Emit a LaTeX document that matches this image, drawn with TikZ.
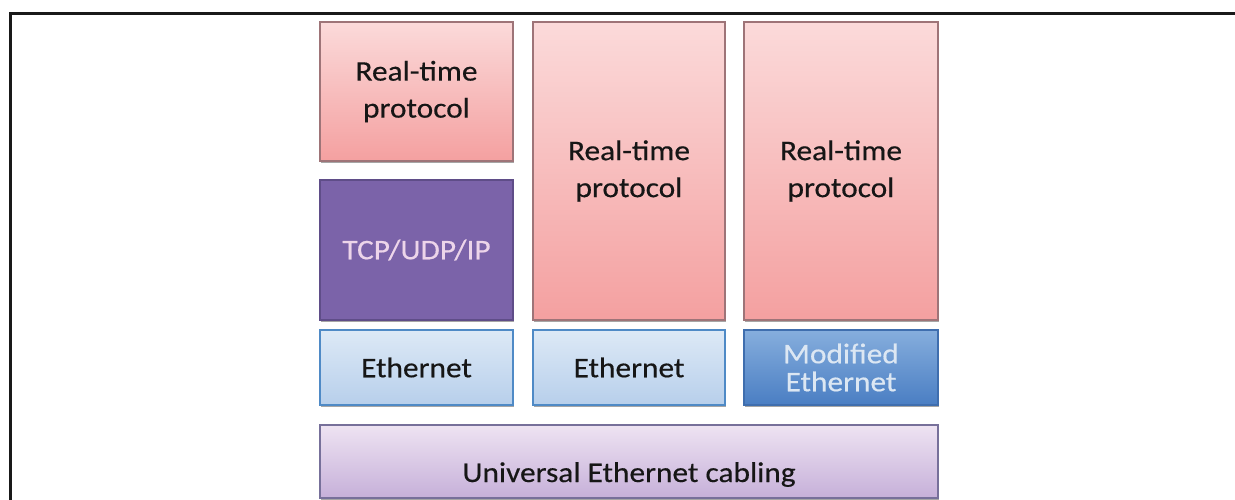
\documentclass[tikz,border=0pt]{standalone}
\usepackage{fontspec}
\setmainfont{Carlito}[FakeStretch=1.1,FakeBold=0.4]
\usetikzlibrary{shadows}
\definecolor{rtTop}{HTML}{FBDADA}
\definecolor{rtBot}{HTML}{F4A0A0}
\definecolor{rtDraw}{HTML}{9E7478}
\definecolor{tcpFill}{HTML}{7B63A9}
\definecolor{tcpDraw}{HTML}{5F4D88}
\definecolor{tcpText}{HTML}{EDD5EA}
\definecolor{ethTop}{HTML}{DDE9F6}
\definecolor{ethBot}{HTML}{B7CFEB}
\definecolor{ethDraw}{HTML}{4F8AC6}
\definecolor{modTop}{HTML}{86AEDD}
\definecolor{modBot}{HTML}{4A7EC3}
\definecolor{modDraw}{HTML}{3F6EAE}
\definecolor{modText}{HTML}{DCE7F3}
\definecolor{cabTop}{HTML}{EEE3F2}
\definecolor{cabBot}{HTML}{C6B0D9}
\definecolor{cabDraw}{HTML}{77709A}
\definecolor{txt}{HTML}{161616}
\tikzset{
  layer/.style={rectangle, inner sep=0pt, outer sep=0pt, line width=1.3pt, align=center,
    font=\fontsize{28.5}{37}\selectfont, text=txt,
    drop shadow={shadow xshift=1pt, shadow yshift=-1.8pt, opacity=0.35, fill=black}},
  rtbox/.style={layer, draw=rtDraw, top color=rtTop, bottom color=rtBot},
  tcpbox/.style={layer, draw=tcpDraw, fill=tcpFill, text=tcpText},
  ethbox/.style={layer, draw=ethDraw, top color=ethTop, bottom color=ethBot},
  modbox/.style={layer, draw=modDraw, top color=modTop, bottom color=modBot, text=modText,
    font=\fontsize{28.5}{28}\selectfont},
  cabbox/.style={layer, draw=cabDraw, top color=cabTop, bottom color=cabBot},
  frameline/.style={line width=3pt, draw=black!90}
}
\begin{document}
\begin{tikzpicture}[x=1pt,y=-1pt]
\useasboundingbox (0,0) rectangle (1235,500);
\fill[white] (0,0) rectangle (1235,500);
\draw[frameline] (10.5,500) -- (10.5,13.5) -- (1235,13.5);
\node[rtbox, minimum width=193pt, minimum height=139pt] (rt1) at (416.5,91.5) {Real-time\\protocol};
\node[tcpbox, minimum width=193pt, minimum height=140pt] (tcp) at (416.5,250) {TCP/UDP/IP};
\node[rtbox, minimum width=192pt, minimum height=298pt] (rt2) at (629,171) {Real-time\\protocol};
\node[rtbox, minimum width=194pt, minimum height=298pt] (rt3) at (841,171) {Real-time\\protocol};
\node[ethbox, minimum width=193pt, minimum height=75pt] (eth1) at (416.5,367.5) {Ethernet};
\node[ethbox, minimum width=192pt, minimum height=75pt] (eth2) at (629,367.5) {Ethernet};
\node[modbox, minimum width=194pt, minimum height=75pt] (eth3) at (841,367.5) {Modified\\Ethernet};
\node[cabbox, minimum width=618pt, minimum height=73pt] (cab) at (629,461.5) {};
\node[anchor=base, font=\fontsize{28.5}{37}\selectfont, text=txt, inner sep=0pt] (cabtext) at (629,482) {Universal Ethernet cabling};
\end{tikzpicture}
\end{document}
